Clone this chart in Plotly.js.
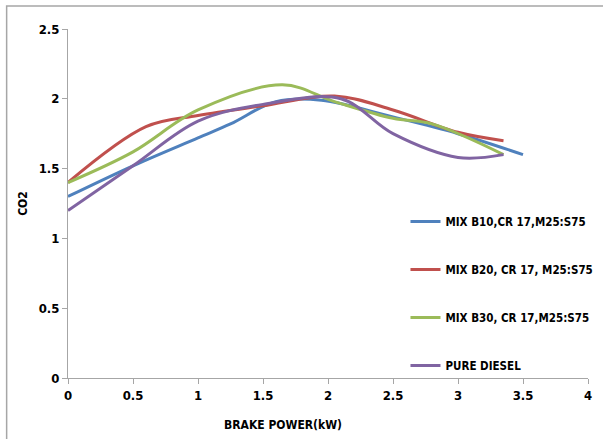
<!DOCTYPE html>
<html>
<head>
<meta charset="utf-8">
<script src="https://cdn.plot.ly/plotly-3.0.1.min.js"></script>
<style>
  html, body { margin: 0; padding: 0; background: #fff; }
  #chart { width: 603px; height: 439px; }
</style>
</head>
<body>
<div id="chart"></div>
<script>
// Data
const seriesNames = [
  "MIX B10,CR 17,M25:S75",
  "MIX B20, CR 17, M25:S75",
  "MIX B30, CR 17,M25:S75",
  "PURE DIESEL"
];
const b10X = [0, 0.5, 1.0, 1.25, 1.6, 1.95, 2.5, 3.0, 3.5];
const b10Y = [1.3, 1.52, 1.72, 1.82, 1.98, 1.99, 1.87, 1.75, 1.6];
const b20X = [0, 0.6, 1.0, 1.5, 2.05, 2.5, 3.0, 3.35];
const b20Y = [1.4, 1.8, 1.88, 1.95, 2.02, 1.92, 1.76, 1.7];
const b30X = [0, 0.5, 1.0, 1.65, 2.05, 2.5, 2.8, 3.35];
const b30Y = [1.4, 1.62, 1.92, 2.1, 1.98, 1.86, 1.82, 1.6];
const dieselX = [0, 0.5, 1.0, 1.5, 2.1, 2.5, 3.0, 3.35];
const dieselY = [1.2, 1.52, 1.84, 1.96, 2.0, 1.75, 1.58, 1.6];
const xTicks = [0, 0.5, 1, 1.5, 2, 2.5, 3, 3.5, 4];
const xTickText = ["0", "0.5", "1", "1.5", "2", "2.5", "3", "3.5", "4"];
const yTicks = [0, 0.5, 1, 1.5, 2, 2.5];
const yTickText = ["0", "0.5", "1", "1.5", "2", "2.5"];

const colors = ["#4F81BD", "#C0504D", "#9BBB59", "#8064A2"];
const xs = [b10X, b20X, b30X, dieselX];
const ys = [b10Y, b20Y, b30Y, dieselY];

const FONT = "Liberation Sans Narrow, DejaVu Sans Condensed, Arial Narrow, sans-serif";

const traces = seriesNames.map((name, i) => ({
  type: "scatter",
  mode: "lines",
  name: name,
  x: xs[i],
  y: ys[i],
  legendgroup: "g" + i,
  line: { color: colors[i], width: 3, shape: "spline", smoothing: 1 }
}));

const layout = {
  width: 603,
  height: 439,
  paper_bgcolor: "#ffffff",
  plot_bgcolor: "#ffffff",
  margin: { l: 68, r: 15, t: 29, b: 61, autoexpand: false },
  font: { family: FONT, size: 12, color: "#000", weight: "bold" },
  showlegend: true,
  legend: {
    x: 0.649, y: 0.49, xanchor: "left", yanchor: "top",
    traceorder: "grouped",
    tracegroupgap: 29,
    font: { family: FONT, size: 11.5, color: "#000", weight: "bold" },
    bgcolor: "rgba(0,0,0,0)"
  },
  xaxis: {
    range: [0, 4],
    tickvals: xTicks,
    ticktext: xTickText,
    showgrid: false,
    zeroline: false,
    showline: true,
    linecolor: "#A6A6A6",
    linewidth: 1,
    ticks: "outside",
    ticklen: 5,
    tickcolor: "#A6A6A6",
    tickfont: { family: FONT, size: 13, color: "#000", weight: "bold" },
    fixedrange: true
  },
  yaxis: {
    range: [0, 2.5],
    tickvals: yTicks,
    ticktext: yTickText,
    showgrid: false,
    zeroline: false,
    showline: true,
    linecolor: "#A6A6A6",
    linewidth: 1,
    ticks: "outside",
    ticklen: 5,
    tickcolor: "#A6A6A6",
    tickfont: { family: FONT, size: 13, color: "#000", weight: "bold" },
    title: { text: "CO2", font: { family: FONT, size: 12, color: "#000", weight: "bold" }, standoff: 8 },
    fixedrange: true
  },
  annotations: [{
    text: "BRAKE POWER(kW)",
    xref: "paper", yref: "paper",
    x: 0.413, y: -0.135,
    xanchor: "center", yanchor: "middle",
    showarrow: false,
    font: { family: FONT, size: 12, color: "#000", weight: "bold" }
  }],
  shapes: [{
    type: "rect",
    xref: "paper", yref: "paper",
    x0: -0.118, x1: 1.2, y0: -0.3, y1: 1.066,
    line: { color: "#A6A6A6", width: 1.5 },
    fillcolor: "rgba(0,0,0,0)",
    layer: "below"
  }]
};

Plotly.newPlot("chart", traces, layout, { displayModeBar: false, staticPlot: true });
</script>
</body>
</html>
